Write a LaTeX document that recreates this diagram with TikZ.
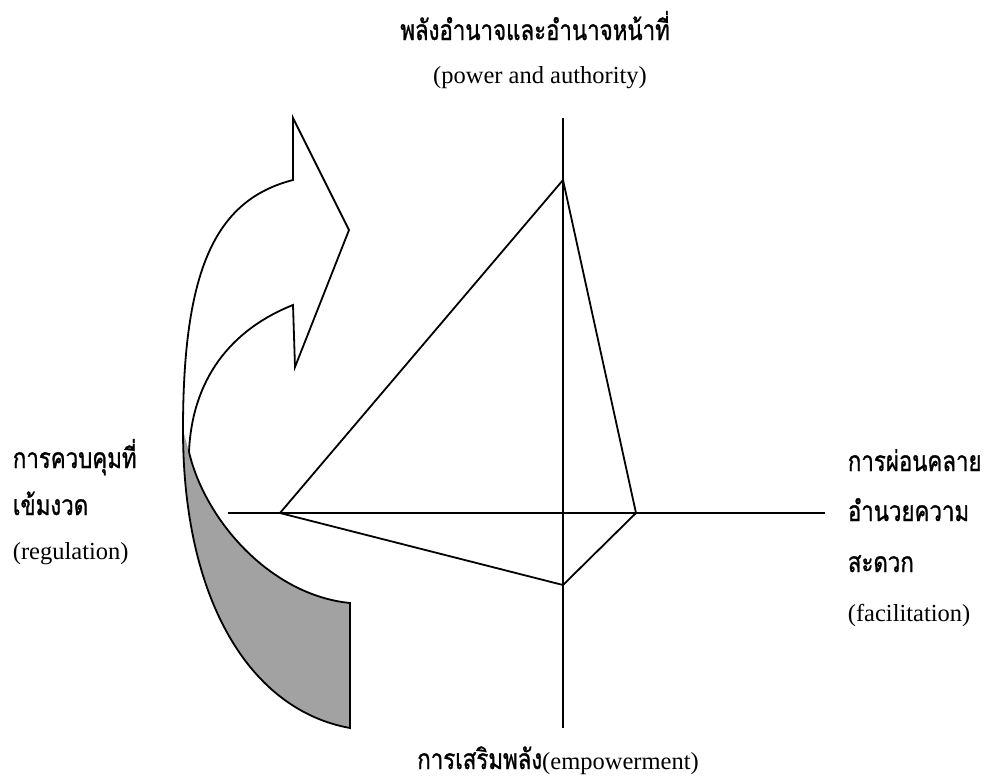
\documentclass[tikz,border=0pt]{standalone}
\usepackage{fontspec}
\setmainfont{Liberation Serif}
\newfontfamily\thaifont[Script=Thai,Scale=1.15,FakeStretch=0.79,FakeBold=1]{Loma}
\usepackage{tikz}
\usetikzlibrary{positioning}
\definecolor{tail}{HTML}{A2A2A2}

\begin{document}
\begin{tikzpicture}[x=1pt,y=-1pt,line width=1.8pt,
  lbl/.style={anchor=base west,inner sep=0pt,font=\fontsize{24.5}{28}\selectfont},
  mid/.style={anchor=base,inner sep=0pt,font=\fontsize{24.5}{28}\selectfont}]
\useasboundingbox (0,0) rectangle (988,782);
% labels
\node[mid] (powth) at (535,40) {\thaifont พลังอำนาจและอำนาจหน้าที่};
\node[mid] (powen) at (540,83) {(power and authority)};
\foreach \i/\name/\yy in {1/{\thaifont การควบคุมที่}/468, 2/{\thaifont เข้มงวด}/515, 3/{(regulation)}/559}{
  \node[lbl] (reg\i) at (12,\yy) {\name};
}
\foreach \i/\name/\yy in {1/{\thaifont การผ่อนคลาย}/471, 2/{\thaifont อำนวยความ}/521, 3/{\thaifont สะดวก}/572, 4/{(facilitation)}/621}{
  \node[lbl] (fac\i) at (847,\yy) {\name};
}
\node[mid] (empl) at (558,769) {{\thaifont การเสริมพลัง}(empowerment)};
% AXES
\coordinate (vtop) at (563,118);
\coordinate (vbot) at (563,728);
\coordinate (hleft) at (228,513);
\coordinate (hright) at (825,513);
\draw (vtop) -- (vbot);
\draw (hleft) -- (hright);
% POLYGON
\coordinate (preg) at (280,513);
\coordinate (ppow) at (563,180);
\coordinate (pfac) at (636,513);
\coordinate (pemp) at (563,585);
\draw (preg) -- (ppow) -- (pfac) -- (pemp) -- cycle;
% CURVED ARROW
\fill[tail] (189,452) .. controls (205,520) and (270,595) .. (350,603) -- (350,728)
  .. controls (250,710) and (183,600) .. (183,430) -- cycle;
\draw (293,180) -- (293,118) -- (349,230) -- (295,367) -- (293,305)
  .. controls (230,330) and (192,380) .. (189,452)
  .. controls (205,520) and (270,595) .. (350,603) -- (350,728)
  .. controls (250,710) and (183,600) .. (183,430)
  .. controls (183,270) and (215,200) .. (293,180) -- cycle;
\end{tikzpicture}
\end{document}
